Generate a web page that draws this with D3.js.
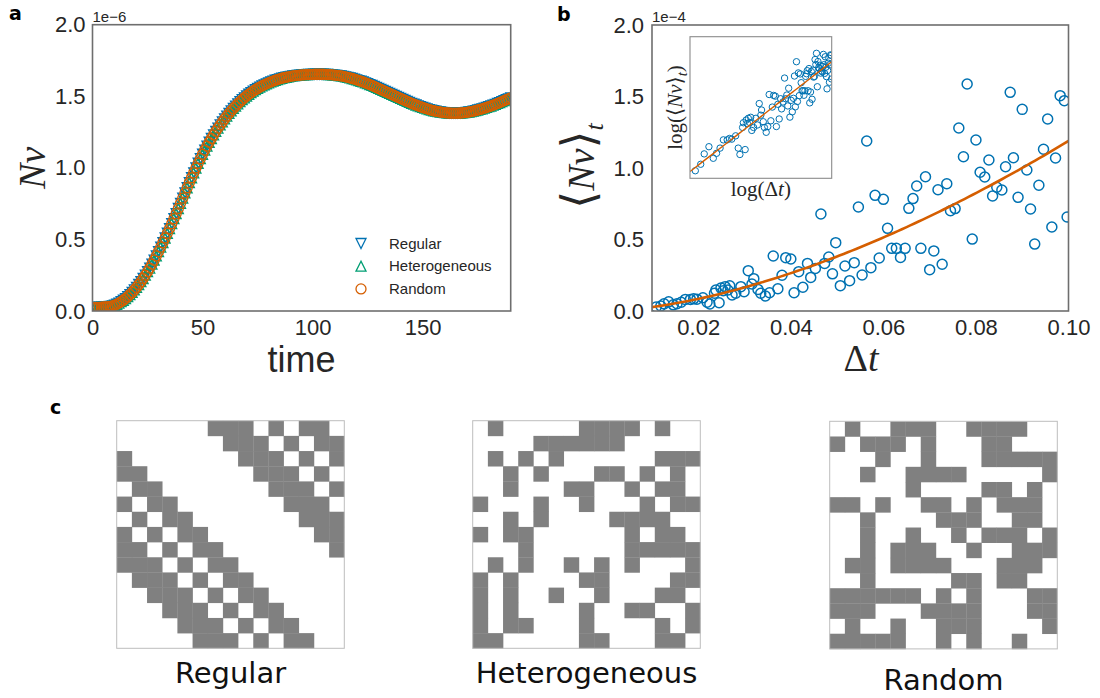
<!DOCTYPE html>
<html>
<head>
<meta charset="utf-8">
<script src="https://cdn.jsdelivr.net/npm/d3@7"></script>
<style>
  body { margin: 0; background: #ffffff; }
  svg { display: block; }
</style>
</head>
<body>
<svg id="fig" width="1100" height="698"></svg>
<script>
// ---------- data ----------
// (a) Nv over time for the three network topologies (units of 1e-6).
// At this resolution the three topologies follow the same trajectory.
const timeSteps = d3.range(0, 191, 1);
const nvTrajectory = [
  0.025,0.025,0.026,0.026,0.027,0.028,0.029,0.031,0.033,0.036,
  0.040,0.047,0.055,0.065,0.075,0.087,0.100,0.115,0.130,0.147,
  0.165,0.185,0.205,0.227,0.250,0.275,0.300,0.327,0.355,0.385,
  0.415,0.446,0.478,0.510,0.543,0.576,0.610,0.645,0.680,0.716,
  0.752,0.788,0.825,0.861,0.897,0.931,0.965,0.999,1.032,1.064,
  1.095,1.124,1.152,1.179,1.205,1.230,1.255,1.278,1.300,1.321,
  1.342,1.361,1.380,1.398,1.415,1.431,1.447,1.462,1.476,1.489,
  1.502,1.514,1.525,1.536,1.546,1.555,1.564,1.572,1.580,1.587,
  1.594,1.600,1.606,1.612,1.617,1.622,1.626,1.630,1.633,1.636,
  1.639,1.642,1.644,1.646,1.647,1.649,1.650,1.651,1.652,1.653,
  1.653,1.654,1.654,1.654,1.654,1.654,1.653,1.652,1.651,1.650,
  1.648,1.646,1.644,1.642,1.639,1.636,1.632,1.628,1.624,1.620,
  1.615,1.610,1.605,1.600,1.594,1.588,1.582,1.576,1.569,1.562,
  1.555,1.548,1.541,1.534,1.527,1.520,1.513,1.506,1.499,1.492,
  1.485,1.478,1.471,1.464,1.458,1.451,1.445,1.439,1.433,1.427,
  1.422,1.417,1.412,1.407,1.403,1.399,1.396,1.393,1.390,1.388,
  1.386,1.384,1.383,1.382,1.382,1.382,1.382,1.383,1.384,1.386,
  1.388,1.390,1.393,1.396,1.400,1.404,1.408,1.412,1.417,1.422,
  1.427,1.432,1.438,1.444,1.450,1.456,1.463,1.469,1.476,1.482,
  1.489
];
const topologyNames = ["Regular", "Heterogeneous", "Random"];
const topologyColors = ["#0072B2", "#009E73", "#D55E00"];
const nvYTicks = [0.0, 0.5, 1.0, 1.5, 2.0];
const timeTicks = [0, 50, 100, 150];

// (b) time-averaged Nv against the step size (units of 1e-4).
const deltaT = [
  0.0109,0.0119,0.0126,0.0136,0.0146,0.0154,0.0163,0.0172,0.0183,0.0190,
  0.0197,0.0210,0.0219,0.0225,0.0235,0.0238,0.0245,0.0249,0.0254,0.0258,
  0.0264,0.0268,0.0273,0.0281,0.0292,0.0299,0.0308,0.0316,0.0320,0.0329,
  0.0335,0.0345,0.0354,0.0362,0.0372,0.0381,0.0389,0.0400,0.0407,0.0417,
  0.0426,0.0436,0.0443,0.0453,0.0465,0.0473,0.0482,0.0490,0.0497,0.0507,
  0.0517,0.0527,0.0537,0.0546,0.0554,0.0564,0.0573,0.0582,0.0591,0.0600,
  0.0609,0.0618,0.0628,0.0637,0.0647,0.0655,0.0664,0.0672,0.0681,0.0691,
  0.0700,0.0709,0.0718,0.0727,0.0737,0.0745,0.0755,0.0763,0.0773,0.0781,
  0.0792,0.0800,0.0809,0.0819,0.0828,0.0836,0.0845,0.0856,0.0864,0.0874,
  0.0881,0.0891,0.0900,0.0910,0.0918,0.0927,0.0936,0.0946,0.0955,0.0964,
  0.0972,0.0982,0.0991,0.0997
];
const meanNv = [
  0.028,0.035,0.050,0.064,0.043,0.051,0.061,0.081,0.081,0.085,
  0.083,0.093,0.061,0.049,0.124,0.146,0.058,0.160,0.142,0.170,
  0.147,0.176,0.112,0.124,0.170,0.135,0.282,0.189,0.226,0.151,
  0.124,0.105,0.128,0.385,0.156,0.250,0.373,0.364,0.128,0.275,
  0.166,0.333,0.235,0.298,0.678,0.333,0.378,0.260,0.478,0.177,
  0.315,0.212,0.338,0.727,0.252,1.189,0.303,0.809,0.371,0.781,
  0.578,0.438,0.438,0.375,0.438,0.718,0.786,0.874,0.438,0.939,
  0.289,0.420,0.848,0.327,0.890,0.701,0.716,1.280,1.079,1.587,
  0.503,1.196,0.970,0.937,1.056,0.804,0.865,0.846,1.009,1.529,
  1.072,0.795,1.410,0.986,0.713,0.468,0.879,1.131,1.343,0.587,
  1.070,1.506,1.471,0.657
];
// power-law fit  <Nv>_t = coefficient * dt^exponent  (units of 1e-4)
const fitCoefficient = 51.9;
const fitExponent = 1.64;
const deltaTTicks = [0.02, 0.04, 0.06, 0.08, 0.10];
const meanYTicks = [0.0, 0.5, 1.0, 1.5, 2.0];

// (c) adjacency matrices of the three 15-node networks
const regularAdjacency = [
  "000000111010110","000000011101011","100000001110101","110000000111010",
  "011000000011101","101100000001110","010110000000111","101011000000011",
  "110101100000001","111010110000000","011101011000000","001110101100000",
  "000111010110000","000011101011000","000001110101100"
];
const heterogeneousAdjacency = [
  "010000011110100","000011111100000","010101000000111","001010001101010",
  "001000110010110","100010010001011","001010000111100","101100000010110",
  "000100000011111","010100101010001","101000011000011","101001001000110",
  "101000010011001","101100010000101","110000011000110"
];
const randomAdjacency = [
  "010011100111100","101110100011000","000100100011111","001001111000001",
  "000001000011010","110100110101110","001000011100110","001001001011101",
  "001011100100111","011011110001110","001000001101100","111111010100011",
  "111000111100011","010010011100001","111110010100100"
];

// ---------- styling ----------
const SANS = "'Liberation Sans', Arial, sans-serif";
const SERIF = "'Liberation Serif', 'DejaVu Serif', serif";
const LABEL_FONT = "'DejaVu Sans', sans-serif";
const TEXT = "#262626";
const FRAME = "#6e6e6e";

const svg = d3.select("#fig");
const defs = svg.append("defs");

function panelLetter(ch, x, y) {
  svg.append("text").attr("x", x).attr("y", y)
    .attr("font-family", LABEL_FONT).attr("font-weight", "bold")
    .attr("font-size", 19).attr("fill", "#000").text(ch);
}

function styleAxis(g) {
  g.select(".domain").remove();
  g.selectAll("text").attr("font-family", SANS).attr("font-size", 22).attr("fill", TEXT);
}

function trianglePath(size, down) {
  const h = size / 2;
  return down ? `M0,${h}L${-h},${-h}L${h},${-h}Z` : `M0,${-h}L${-h},${h}L${h},${h}Z`;
}
const markerPaths = [
  trianglePath(10, true),
  trianglePath(10, false),
  d3.symbol().type(d3.symbolCircle).size(Math.PI * 25)()
];

// ---------- panel a ----------
const A = { left: 92.5, right: 510.7, top: 24.7, bottom: 311 };
const xa = d3.scaleLinear().domain([0, 190]).range([A.left, A.right]);
const ya = d3.scaleLinear().domain([0, 2.0]).range([A.bottom, A.top]);

defs.append("clipPath").attr("id", "clipA").append("rect")
  .attr("x", A.left).attr("y", A.top).attr("width", A.right - A.left).attr("height", A.bottom - A.top);

const ga = svg.append("g");
const gaMarks = ga.append("g").attr("clip-path", "url(#clipA)");
topologyNames.forEach((name, i) => {
  gaMarks.append("g").selectAll("path").data(timeSteps).join("path")
    .attr("transform", (t, k) => `translate(${xa(t)},${ya(nvTrajectory[k])})`)
    .attr("d", markerPaths[i])
    .attr("fill", "none").attr("stroke", topologyColors[i]).attr("stroke-width", 1.3);
});

ga.append("g").attr("transform", `translate(${A.left},0)`)
  .call(d3.axisLeft(ya).tickValues(nvYTicks).tickFormat(d3.format(".1f")).tickSize(0).tickPadding(7))
  .call(styleAxis);
ga.append("g").attr("transform", `translate(0,${A.bottom})`)
  .call(d3.axisBottom(xa).tickValues(timeTicks).tickFormat(d3.format("d")).tickSize(0).tickPadding(8))
  .call(styleAxis);

ga.append("rect").attr("x", A.left).attr("y", A.top)
  .attr("width", A.right - A.left).attr("height", A.bottom - A.top)
  .attr("fill", "none").attr("stroke", FRAME).attr("stroke-width", 1.6);

ga.append("text").attr("x", A.left).attr("y", 21.5)
  .attr("font-family", SANS).attr("font-size", 15).attr("fill", TEXT).text("1e\u22126");

ga.append("text").attr("x", (A.left + A.right) / 2).attr("y", 372)
  .attr("text-anchor", "middle").attr("font-family", SANS).attr("font-size", 36)
  .attr("fill", TEXT).text("time");

ga.append("text").attr("transform", `translate(45,${(A.top + A.bottom) / 2}) rotate(-90)`)
  .attr("text-anchor", "middle").attr("font-family", SERIF).attr("font-style", "italic")
  .attr("font-size", 38).attr("fill", TEXT).text("Nv");

// legend
const legend = ga.append("g");
topologyNames.forEach((name, i) => {
  const y = 243.5 + i * 22.7;
  legend.append("path").attr("transform", `translate(361,${y})`).attr("d", markerPaths[i])
    .attr("fill", "none").attr("stroke", topologyColors[i]).attr("stroke-width", 1.3);
  legend.append("text").attr("x", 389).attr("y", y).attr("dy", "0.35em")
    .attr("font-family", SANS).attr("font-size", 15).attr("fill", TEXT).text(name);
});

panelLetter("a", 9, 19.5);

// ---------- panel b ----------
const B = { left: 652, right: 1068.5, top: 25, bottom: 311 };
const xb = d3.scaleLinear().domain([0.01, 0.10]).range([B.left, B.right]);
const yb = d3.scaleLinear().domain([0, 2.0]).range([B.bottom, B.top]);
const fitValue = dt => fitCoefficient * Math.pow(dt, fitExponent);

defs.append("clipPath").attr("id", "clipB").append("rect")
  .attr("x", B.left).attr("y", B.top).attr("width", B.right - B.left).attr("height", B.bottom - B.top);

const gb = svg.append("g");
const gbMarks = gb.append("g").attr("clip-path", "url(#clipB)");
gbMarks.append("g").selectAll("circle").data(deltaT).join("circle")
  .attr("cx", d => xb(d)).attr("cy", (d, i) => yb(meanNv[i])).attr("r", 5)
  .attr("fill", "none").attr("stroke", "#0072B2").attr("stroke-width", 1.5);

const fitGrid = d3.range(0, 101).map(i => 0.01 + i * 0.0009);
gbMarks.append("path")
  .attr("d", d3.line().x(d => xb(d)).y(d => yb(fitValue(d)))(fitGrid))
  .attr("fill", "none").attr("stroke", "#D55E00").attr("stroke-width", 2.6);

gb.append("g").attr("transform", `translate(${B.left},0)`)
  .call(d3.axisLeft(yb).tickValues(meanYTicks).tickFormat(d3.format(".1f")).tickSize(0).tickPadding(8))
  .call(styleAxis);
gb.append("g").attr("transform", `translate(0,${B.bottom})`)
  .call(d3.axisBottom(xb).tickValues(deltaTTicks).tickFormat(d3.format(".2f")).tickSize(0).tickPadding(8))
  .call(styleAxis);

gb.append("rect").attr("x", B.left).attr("y", B.top)
  .attr("width", B.right - B.left).attr("height", B.bottom - B.top)
  .attr("fill", "none").attr("stroke", FRAME).attr("stroke-width", 1.6);

gb.append("text").attr("x", B.left).attr("y", 21.5)
  .attr("font-family", SANS).attr("font-size", 15).attr("fill", TEXT).text("1e\u22124");

const dtLabel = gb.append("text").attr("x", 861).attr("y", 371)
  .attr("text-anchor", "middle").attr("font-family", SERIF).attr("font-size", 38).attr("fill", TEXT);
dtLabel.append("tspan").text("\u0394");
dtLabel.append("tspan").attr("font-style", "italic").text("t");

const nvLabel = gb.append("text")
  .attr("transform", `translate(594,${(B.top + B.bottom) / 2 - 2}) rotate(-90)`)
  .attr("text-anchor", "middle").attr("font-family", SERIF).attr("font-size", 38).attr("fill", TEXT);
nvLabel.append("tspan").attr("font-family", "'DejaVu Serif', serif").attr("font-size", 46).text("\u27E8");
nvLabel.append("tspan").attr("font-style", "italic").text("Nv");
nvLabel.append("tspan").attr("font-family", "'DejaVu Serif', serif").attr("font-size", 46).text("\u27E9");
nvLabel.append("tspan").attr("font-style", "italic").attr("font-size", 26).attr("dy", 9).text("t");

// inset: log-log view of the same data
const I = { left: 690, right: 831.7, top: 36.7, bottom: 178.3 };
const xi = d3.scaleLog().domain([0.01, 0.1]).range([I.left, I.right]);
const yi = d3.scaleLog().domain([0.0216, 2.81]).range([I.bottom, I.top]);

defs.append("clipPath").attr("id", "clipI").append("rect")
  .attr("x", I.left).attr("y", I.top).attr("width", I.right - I.left).attr("height", I.bottom - I.top);

const gi = gb.append("g");
gi.append("rect").attr("x", I.left).attr("y", I.top)
  .attr("width", I.right - I.left).attr("height", I.bottom - I.top).attr("fill", "#fff");
const giMarks = gi.append("g").attr("clip-path", "url(#clipI)");
giMarks.append("g").selectAll("circle").data(deltaT).join("circle")
  .attr("cx", d => xi(d)).attr("cy", (d, i) => yi(meanNv[i])).attr("r", 3.2)
  .attr("fill", "none").attr("stroke", "#0072B2").attr("stroke-width", 1);
giMarks.append("path")
  .attr("d", d3.line().x(d => xi(d)).y(d => yi(fitValue(d)))(fitGrid))
  .attr("fill", "none").attr("stroke", "#D55E00").attr("stroke-width", 1.4);
gi.append("rect").attr("x", I.left).attr("y", I.top)
  .attr("width", I.right - I.left).attr("height", I.bottom - I.top)
  .attr("fill", "none").attr("stroke", "#8a8a8a").attr("stroke-width", 1.1);

const logDt = gi.append("text").attr("x", (I.left + I.right) / 2).attr("y", 196)
  .attr("text-anchor", "middle").attr("font-family", SERIF).attr("font-size", 21).attr("fill", TEXT);
logDt.append("tspan").text("log(\u0394");
logDt.append("tspan").attr("font-style", "italic").text("t");
logDt.append("tspan").text(")");

const logNv = gi.append("text")
  .attr("transform", `translate(682,${(I.top + I.bottom) / 2}) rotate(-90)`)
  .attr("text-anchor", "middle").attr("font-family", SERIF).attr("font-size", 21).attr("fill", TEXT);
logNv.append("tspan").text("log(");
logNv.append("tspan").attr("font-family", "'DejaVu Serif', serif").text("\u27E8");
logNv.append("tspan").attr("font-style", "italic").text("Nv");
logNv.append("tspan").attr("font-family", "'DejaVu Serif', serif").text("\u27E9");
logNv.append("tspan").attr("font-style", "italic").attr("font-size", 15).attr("dy", 5).text("t");
logNv.append("tspan").attr("dy", -5).text(")");

panelLetter("b", 557, 21);

// ---------- panel c ----------
const matrices = [
  { name: "Regular", rows: regularAdjacency, x: 116.7, y: 420.7, labelY: 683 },
  { name: "Heterogeneous", rows: heterogeneousAdjacency, x: 472.7, y: 420.7, labelY: 683 },
  { name: "Random", rows: randomAdjacency, x: 829.7, y: 421.3, labelY: 690 }
];
const matrixSize = 227.6;
const band = d3.scaleBand().domain(d3.range(15)).range([0, matrixSize]);

matrices.forEach(m => {
  const g = svg.append("g").attr("transform", `translate(${m.x},${m.y})`);
  const cells = [];
  m.rows.forEach((row, r) => row.split("").forEach((v, c) => { if (v === "1") cells.push([r, c]); }));
  g.append("rect").attr("width", matrixSize).attr("height", matrixSize).attr("fill", "#fff");
  g.selectAll("rect.cell").data(cells).join("rect").attr("class", "cell")
    .attr("x", d => band(d[1])).attr("y", d => band(d[0]))
    .attr("width", band.bandwidth() + 0.3).attr("height", band.bandwidth() + 0.3)
    .attr("fill", "#808080");
  g.append("rect").attr("width", matrixSize).attr("height", matrixSize)
    .attr("fill", "none").attr("stroke", "#bdbdbd").attr("stroke-width", 1);
  svg.append("text").attr("x", m.x + matrixSize / 2).attr("y", m.labelY)
    .attr("text-anchor", "middle").attr("font-family", LABEL_FONT).attr("font-size", 29)
    .attr("fill", "#111").text(m.name);
});

panelLetter("c", 50, 414);
</script>
</body>
</html>
